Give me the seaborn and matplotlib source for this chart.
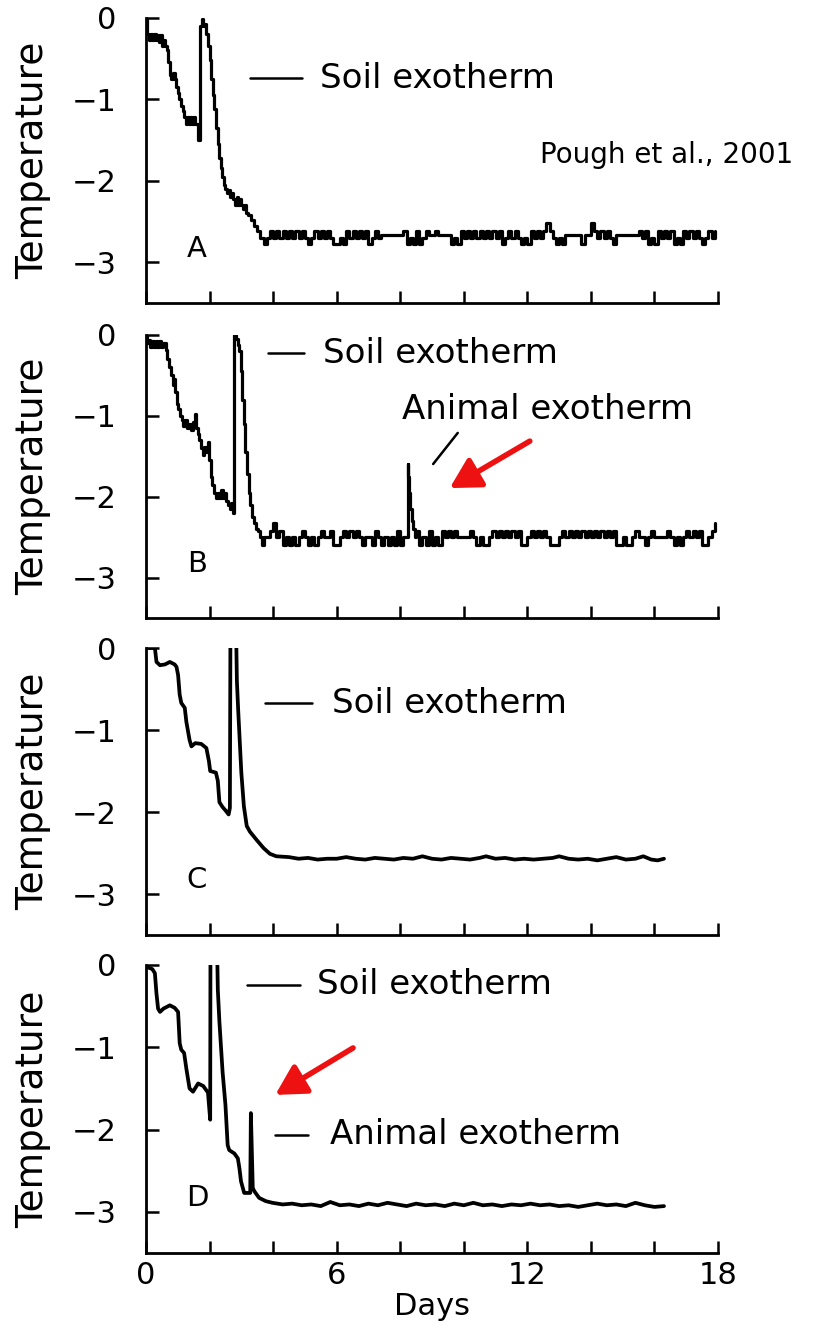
import numpy as np
import pandas as pd
import matplotlib
matplotlib.use("Agg")
import matplotlib.pyplot as plt
import seaborn as sns

# ---------------- data ----------------
# Panel A: transient part (days, temperature)
A_days = [0.00, 0.03, 0.10, 0.15, 0.20, 0.25, 0.30, 0.35, 0.40, 0.45, 0.50, 0.55,
          0.60, 0.65, 0.70, 0.75, 0.80, 0.85, 0.90, 0.95, 1.00, 1.05, 1.10, 1.15,
          1.20, 1.25, 1.30, 1.35, 1.40, 1.45, 1.50, 1.55, 1.60, 1.65, 1.70, 1.75,
          1.80, 1.85, 1.90, 1.95, 2.00, 2.05, 2.10, 2.15, 2.20, 2.25, 2.30, 2.35,
          2.40, 2.45, 2.50, 2.55, 2.60, 2.65, 2.70, 2.75, 2.80, 2.85, 2.90, 2.95,
          3.00, 3.05, 3.10, 3.15, 3.20, 3.30, 3.40, 3.50, 3.60]
A_temp = [-0.02, -0.20, -0.28, -0.20, -0.28, -0.20, -0.28, -0.22, -0.30, -0.22, -0.35, -0.28,
          -0.35, -0.40, -0.55, -0.70, -0.75, -0.68, -0.75, -0.85, -0.92, -1.00, -1.08, -1.15,
          -1.22, -1.30, -1.22, -1.30, -1.22, -1.30, -1.22, -1.30, -1.30, -1.50, -0.10, -0.02,
          -0.10, -0.08, -0.20, -0.35, -0.52, -0.75, -0.95, -1.12, -1.35, -1.55, -1.72, -1.85,
          -1.95, -2.05, -2.10, -2.15, -2.12, -2.20, -2.15, -2.22, -2.30, -2.20, -2.30, -2.22,
          -2.30, -2.35, -2.30, -2.40, -2.42, -2.48, -2.55, -2.62, -2.70]
# Panel A: baseline sampled every 0.1 day from day 3.7 to 17.9
A_base_start, A_base_step = 3.7, 0.1
A_base = [-2.78, -2.70, -2.62, -2.70, -2.62, -2.70, -2.62, -2.70, -2.62, -2.70,
          -2.62, -2.70, -2.62, -2.70, -2.78, -2.70, -2.62, -2.70, -2.62, -2.70,
          -2.62, -2.70, -2.78, -2.78, -2.70, -2.78, -2.62, -2.70, -2.62, -2.70,
          -2.62, -2.70, -2.62, -2.78, -2.70, -2.62, -2.70, -2.67, -2.67, -2.67,
          -2.67, -2.67, -2.67, -2.67, -2.62, -2.78, -2.70, -2.78, -2.62, -2.78,
          -2.70, -2.62, -2.67, -2.67, -2.62, -2.67, -2.67, -2.67, -2.67, -2.78,
          -2.70, -2.78, -2.62, -2.70, -2.62, -2.70, -2.62, -2.70, -2.62, -2.70,
          -2.62, -2.70, -2.62, -2.70, -2.62, -2.78, -2.70, -2.62, -2.70, -2.62,
          -2.70, -2.78, -2.70, -2.78, -2.62, -2.70, -2.62, -2.70, -2.62, -2.52,
          -2.62, -2.70, -2.78, -2.70, -2.78, -2.67, -2.67, -2.67, -2.67, -2.67,
          -2.78, -2.67, -2.67, -2.52, -2.62, -2.70, -2.62, -2.70, -2.62, -2.70,
          -2.78, -2.67, -2.67, -2.67, -2.67, -2.67, -2.67, -2.67, -2.62, -2.70,
          -2.62, -2.78, -2.70, -2.78, -2.62, -2.70, -2.62, -2.70, -2.62, -2.78,
          -2.70, -2.78, -2.62, -2.70, -2.62, -2.70, -2.62, -2.70, -2.78, -2.70,
          -2.62, -2.70, -2.62]

# Panel B: transient part
B_days = [0.00, 0.03, 0.08, 0.12, 0.18, 0.24, 0.30, 0.36, 0.42, 0.48, 0.55, 0.62,
          0.67, 0.72, 0.78, 0.84, 0.88, 0.92, 0.97, 1.02, 1.07, 1.12, 1.18, 1.24,
          1.30, 1.36, 1.42, 1.48, 1.54, 1.58, 1.63, 1.68, 1.73, 1.78, 1.84, 1.90,
          1.94, 1.98, 2.03, 2.08, 2.13, 2.19, 2.25, 2.31, 2.37, 2.42, 2.48, 2.53,
          2.58, 2.63, 2.68, 2.73, 2.78, 2.83, 2.88, 2.94, 2.98, 3.03, 3.08, 3.13,
          3.18, 3.23, 3.28, 3.34, 3.40, 3.46, 3.52, 3.58, 3.64]
B_temp = [0.00, -0.10, -0.06, -0.15, -0.08, -0.15, -0.08, -0.15, -0.08, -0.15, -0.10, -0.18,
          -0.30, -0.40, -0.50, -0.62, -0.55, -0.70, -0.85, -0.92, -1.00, -1.05, -1.12, -1.05,
          -1.15, -1.10, -1.18, -1.08, -0.98, -1.15, -1.22, -1.30, -1.40, -1.48, -1.38, -1.45,
          -1.32, -1.55, -1.75, -1.85, -1.95, -2.02, -1.95, -2.02, -1.92, -2.02, -1.95, -2.05,
          -2.10, -2.15, -2.08, -2.20, 0.00, -0.05, -0.12, -0.20, -0.45, -0.80, -1.10, -1.45,
          -1.72, -1.95, -2.10, -2.25, -2.32, -2.40, -2.42, -2.50, -2.60]
# Panel B: baseline before the animal exotherm (every 0.1 day, 3.7 to 8.1)
B_base1_start, B_base_step = 3.7, 0.1
B_base1 = [-2.50, -2.50, -2.42, -2.32, -2.50, -2.42, -2.60, -2.50, -2.60, -2.50,
           -2.60, -2.50, -2.42, -2.50, -2.60, -2.50, -2.60, -2.50, -2.42, -2.50,
           -2.50, -2.42, -2.60, -2.60, -2.50, -2.42, -2.50, -2.42, -2.50, -2.42,
           -2.50, -2.60, -2.50, -2.50, -2.60, -2.42, -2.50, -2.60, -2.50, -2.60,
           -2.50, -2.60, -2.42, -2.60, -2.50]
# Panel B: animal exotherm spike
B_spike_days = [8.20, 8.23, 8.26, 8.29, 8.32, 8.36, 8.40, 8.45]
B_spike_temp = [-2.50, -1.60, -1.75, -1.95, -2.15, -2.30, -2.40, -2.50]
# Panel B: baseline after the spike (every 0.1 day, 8.5 to 17.9)
B_base2_start = 8.5
B_base2 = [-2.42, -2.60, -2.50, -2.60, -2.42, -2.60, -2.50, -2.60, -2.42, -2.50,
           -2.42, -2.50, -2.42, -2.50, -2.50, -2.50, -2.50, -2.42, -2.50, -2.60,
           -2.50, -2.60, -2.60, -2.50, -2.42, -2.50, -2.42, -2.50, -2.42, -2.50,
           -2.42, -2.50, -2.42, -2.60, -2.60, -2.50, -2.42, -2.50, -2.42, -2.50,
           -2.42, -2.50, -2.60, -2.60, -2.60, -2.50, -2.42, -2.50, -2.42, -2.50,
           -2.42, -2.50, -2.42, -2.50, -2.42, -2.50, -2.42, -2.50, -2.42, -2.50,
           -2.42, -2.50, -2.42, -2.60, -2.60, -2.50, -2.60, -2.60, -2.50, -2.42,
           -2.50, -2.50, -2.60, -2.50, -2.42, -2.50, -2.50, -2.50, -2.50, -2.42,
           -2.50, -2.60, -2.50, -2.60, -2.50, -2.42, -2.50, -2.42, -2.50, -2.42,
           -2.60, -2.60, -2.50, -2.42, -2.32]

# Panel C (smooth trace)
C_days = [0.00, 0.28, 0.33, 0.44, 0.60, 0.75, 0.90, 0.96, 1.01, 1.06, 1.11, 1.22,
          1.27, 1.37, 1.43, 1.55, 1.74, 1.90, 1.98, 2.02, 2.20, 2.26, 2.31, 2.41,
          2.50, 2.60, 2.64, 2.66, 2.82, 2.86, 2.90, 3.00, 3.08, 3.17, 3.27, 3.48,
          3.70, 3.90, 4.10, 4.50, 4.80, 5.10, 5.40, 5.70, 6.00, 6.30, 6.60, 6.90,
          7.20, 7.50, 7.80, 8.10, 8.40, 8.70, 9.00, 9.30, 9.60, 9.90, 10.20, 10.50,
          10.70, 11.00, 11.30, 11.60, 11.90, 12.20, 12.50, 12.80, 13.00, 13.30, 13.60, 13.90,
          14.20, 14.50, 14.80, 15.10, 15.40, 15.65, 15.90, 16.10, 16.30]
C_temp = [0.00, 0.00, -0.17, -0.21, -0.20, -0.17, -0.20, -0.23, -0.33, -0.57, -0.67, -0.73,
          -0.90, -1.12, -1.20, -1.16, -1.17, -1.22, -1.38, -1.50, -1.52, -1.62, -1.88, -1.94,
          -1.98, -2.03, -1.95, 0.60, 0.60, -0.40, -0.75, -1.52, -1.93, -2.17, -2.24, -2.34,
          -2.44, -2.51, -2.54, -2.55, -2.57, -2.56, -2.58, -2.57, -2.57, -2.55, -2.57, -2.58,
          -2.56, -2.57, -2.58, -2.56, -2.57, -2.54, -2.57, -2.58, -2.56, -2.57, -2.58, -2.56,
          -2.54, -2.57, -2.56, -2.58, -2.57, -2.58, -2.57, -2.56, -2.54, -2.57, -2.58, -2.57,
          -2.59, -2.57, -2.55, -2.58, -2.57, -2.54, -2.58, -2.59, -2.57]

# Panel D (smooth trace)
D_days = [0.00, 0.20, 0.28, 0.33, 0.38, 0.44, 0.55, 0.75, 0.90, 1.01, 1.06, 1.11,
          1.20, 1.27, 1.37, 1.48, 1.64, 1.80, 1.95, 2.02, 2.03, 2.22, 2.26, 2.31,
          2.41, 2.50, 2.57, 2.62, 2.78, 2.89, 2.94, 2.99, 3.09, 3.28, 3.30, 3.36,
          3.41, 3.56, 3.77, 3.98, 4.30, 4.60, 4.90, 5.20, 5.50, 5.80, 6.10, 6.40,
          6.70, 7.00, 7.30, 7.60, 7.90, 8.20, 8.50, 8.80, 9.10, 9.40, 9.70, 10.00,
          10.30, 10.60, 10.90, 11.20, 11.50, 11.80, 12.10, 12.40, 12.70, 13.00, 13.30, 13.60,
          13.90, 14.20, 14.50, 14.80, 15.10, 15.40, 15.70, 16.00, 16.30]
D_temp = [-0.02, -0.05, -0.10, -0.35, -0.53, -0.57, -0.53, -0.49, -0.52, -0.57, -0.95, -1.03,
          -1.07, -1.26, -1.50, -1.54, -1.44, -1.47, -1.55, -1.88, 0.60, 0.60, -0.30, -0.69,
          -1.30, -1.70, -2.19, -2.25, -2.29, -2.35, -2.47, -2.63, -2.77, -2.77, -1.80, -2.71,
          -2.75, -2.83, -2.87, -2.89, -2.91, -2.90, -2.92, -2.91, -2.93, -2.88, -2.92, -2.91,
          -2.93, -2.90, -2.92, -2.89, -2.91, -2.93, -2.90, -2.92, -2.91, -2.93, -2.90, -2.92,
          -2.89, -2.92, -2.91, -2.93, -2.91, -2.92, -2.90, -2.92, -2.91, -2.93, -2.92, -2.94,
          -2.92, -2.90, -2.92, -2.91, -2.93, -2.89, -2.92, -2.94, -2.93]

panel_letters = ["A", "B", "C", "D"]
x_ticks = [0, 2, 4, 6, 8, 10, 12, 14, 16, 18]
x_ticklabels = ["0", "", "", "6", "", "", "12", "", "", "18"]
y_ticks = [0, -1, -2, -3]


def grid_series(start, step, values):
    days = np.round(start + step * np.arange(len(values)), 3)
    return list(days), list(values)


A_bd, A_bv = grid_series(A_base_start, A_base_step, A_base)
B_b1d, B_b1v = grid_series(B_base1_start, B_base_step, B_base1)
B_b2d, B_b2v = grid_series(B_base2_start, B_base_step, B_base2)

dfA = pd.DataFrame({"day": A_days + A_bd, "temp": A_temp + A_bv})
dfB = pd.DataFrame({"day": B_days + B_b1d + B_spike_days + B_b2d,
                    "temp": B_temp + B_b1v + B_spike_temp + B_b2v})
dfC = pd.DataFrame({"day": C_days, "temp": C_temp})
dfD = pd.DataFrame({"day": D_days, "temp": D_temp})

# ---------------- figure ----------------
sns.set_theme(style="ticks")
plt.rcParams['font.family'] = ['DejaVu Sans']

W, H = 815, 1326
fig = plt.figure(figsize=(W / 100, H / 100), dpi=100)

left_px, right_px = 146, 718
panels_px = [(17.5, 303), (335, 618), (648, 935), (965, 1253)]
axes = []
for top, bot in panels_px:
    ax = fig.add_axes([left_px / W, (H - bot) / H, (right_px - left_px) / W, (bot - top) / H])
    axes.append(ax)

frames = [dfA, dfB, dfC, dfD]
lws = [2.3, 2.3, 2.7, 2.7]
styles = ["steps-post", "steps-post", "default", "default"]
for ax, df, lw, ds in zip(axes, frames, lws, styles):
    sns.lineplot(data=df, x="day", y="temp", ax=ax, color="black", linewidth=lw,
                 estimator=None, sort=False, drawstyle=ds)
    ax.set_xlim(0, 18)
    ax.set_ylim(-3.5, 0)
    ax.set_yticks(y_ticks)
    ax.set_yticklabels(["0", "\u22121", "\u22122", "\u22123"])
    ax.set_xticks(x_ticks)
    ax.set_xticklabels(x_ticklabels)
    sns.despine(ax=ax)
    for s in ["left", "bottom"]:
        ax.spines[s].set_linewidth(2.0)
        ax.spines[s].set_color("black")
    ax.tick_params(axis="both", direction="in", length=9, width=1.8, colors="black",
                   labelsize=22)
    ax.tick_params(axis="y", pad=21)
    ax.tick_params(axis="x", pad=6)
    ax.set_ylabel("Temperature", fontsize=27, color="black")
    ax.yaxis.set_label_coords(-0.165, 0.5)
    ax.set_xlabel("")
    ax.set_facecolor("white")

for ax in axes[:3]:
    ax.tick_params(axis="x", labelbottom=False)

axes[3].set_xlabel("Days", fontsize=22, color="black")
axes[3].xaxis.set_label_coords(0.5, -0.135)

# panel letters
for ax, lab in zip(axes, panel_letters):
    ax.text(0.089, 0.19, lab, transform=ax.transAxes, fontsize=21,
            ha="center", va="center", color="black")

txt_kw = dict(fontsize=24.5, va="center", ha="left", color="black")
key_lw = 1.8
# Panel A key
axes[0].plot([0.182, 0.273], [0.788, 0.788], transform=axes[0].transAxes, color="black", lw=key_lw)
axes[0].text(0.304, 0.788, "Soil exotherm", transform=axes[0].transAxes, **txt_kw)
# Panel B key
axes[1].plot([0.213, 0.276], [0.936, 0.936], transform=axes[1].transAxes, color="black", lw=key_lw)
axes[1].text(0.309, 0.936, "Soil exotherm", transform=axes[1].transAxes, **txt_kw)
axes[1].text(0.448, 0.735, "Animal exotherm", transform=axes[1].transAxes, **txt_kw)
axes[1].plot([0.502, 0.545], [0.544, 0.654], transform=axes[1].transAxes, color="black", lw=key_lw)
# Panel C key
axes[2].plot([0.208, 0.290], [0.808, 0.808], transform=axes[2].transAxes, color="black", lw=key_lw)
axes[2].text(0.325, 0.808, "Soil exotherm", transform=axes[2].transAxes, **txt_kw)
# Panel D keys
axes[3].plot([0.177, 0.269], [0.931, 0.931], transform=axes[3].transAxes, color="black", lw=key_lw)
axes[3].text(0.299, 0.931, "Soil exotherm", transform=axes[3].transAxes, **txt_kw)
axes[3].plot([0.226, 0.283], [0.410, 0.410], transform=axes[3].transAxes, color="black", lw=key_lw)
axes[3].text(0.322, 0.410, "Animal exotherm", transform=axes[3].transAxes, **txt_kw)

# red arrows
arrow_kw = dict(arrowstyle="-|>,head_length=0.9,head_width=0.5", color="#ee1111",
                lw=4.0, shrinkA=0, shrinkB=0, mutation_scale=20)
axes[1].annotate("", xy=(0.531, 0.459), xytext=(0.671, 0.625),
                 xycoords="axes fraction", textcoords="axes fraction", arrowprops=arrow_kw)
axes[3].annotate("", xy=(0.226, 0.549), xytext=(0.362, 0.712),
                 xycoords="axes fraction", textcoords="axes fraction", arrowprops=arrow_kw)

fig.text(540 / W, (H - 155) / H, "Pough et al., 2001", fontsize=20, ha="left",
         va="center", color="black")

fig.savefig("out.png", dpi=100, facecolor="white")
